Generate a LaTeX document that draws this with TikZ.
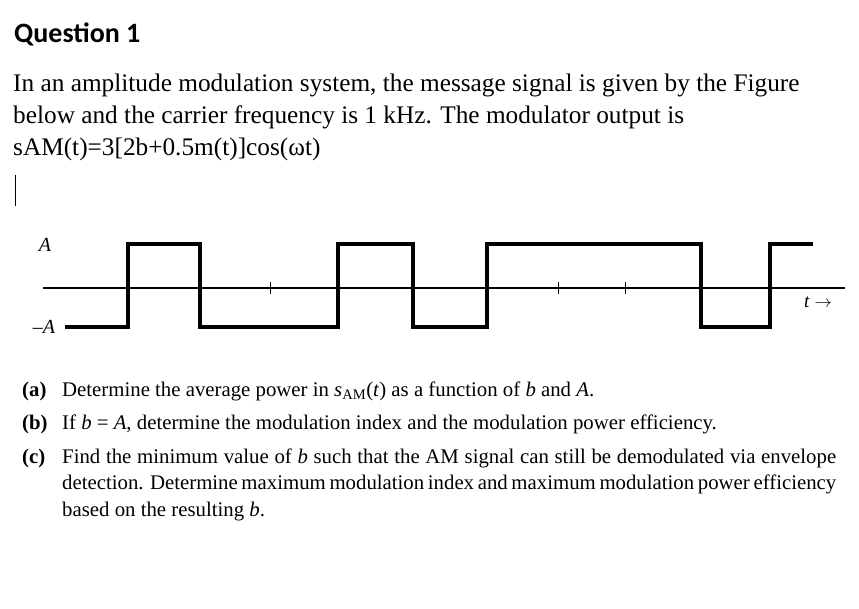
\documentclass[tikz,border=0pt]{standalone}
\usepackage{fontspec}
\setmainfont{Liberation Serif}
\newfontfamily\carlitofont{Carlito}
\begin{document}
\begin{tikzpicture}[x=1pt,y=-1pt,
  body/.style={anchor=base west,inner sep=0pt,font=\fontsize{25.3}{30}\selectfont},
  itm/.style={anchor=base west,inner sep=0pt,font=\fontsize{20.8}{26.5}\selectfont},
  sig/.style={line width=3.2pt},
  ax/.style={line width=1.1pt}]
\useasboundingbox (0,0) rectangle (859,609);
\node[anchor=base west,inner sep=0pt,font=\carlitofont\bfseries\fontsize{28}{32}\selectfont] (q) at (14,43) {Question 1};
\node[body] (l1) at (13,92) {In an amplitude modulation system, the message signal is given by the Figure};
\node[body] (l2) at (13,124) {below and the carrier frequency is 1 kHz. The modulator output is};
\node[body] (l3) at (13,156) {sAM(t)=3[2b+0.5m(t)]cos(ωt)};
\draw[line width=0.8pt] (15,175) -- (15,206);
% axis
\draw[ax] (43,288) coordinate (a0) -- (845,288) coordinate (a1);
\foreach \x in {270,558,625} \draw[line width=0.6pt] (\x,282) -- (\x,294);
\draw[sig] (65,327) -- (128,327) -- (128,244) -- (200,244) -- (200,327) -- (338,327) -- (338,244)
  -- (413,244) -- (413,327) -- (487,327) -- (487,244) -- (701,244) -- (701,327) -- (770,327) -- (770,244) -- (813,244);
\node[inner sep=0pt,font=\itshape\fontsize{20}{22}\selectfont] (la) at (45,245) {A};
\node[inner sep=0pt,font=\fontsize{20}{22}\selectfont] (lma) at (44,327) {–\textit{A}};
\node[inner sep=0pt,font=\fontsize{19}{22}\selectfont] (lt) at (818,302) {\textit{t} $\rightarrow$};
% items
\node[itm] (ia) at (22,396) {\textbf{(a)}};
\node[itm] (ta) at (62,396) {Determine the average power in \textit{s}\textsubscript{AM}(\textit{t}) as a function of \textit{b} and \textit{A}.};
\node[itm] (ib) at (22,429) {\textbf{(b)}};
\node[itm] (tb) at (62,429) {If \textit{b} = \textit{A}, determine the modulation index and the modulation power efficiency.};
\node[itm] (ic) at (22,463) {\textbf{(c)}};
\node[itm,anchor=north west,text width=774pt,align=justify] (tc) at (62,444.5) {\strut Find the minimum value of \textit{b} such that the AM signal can still be demodulated via envelope detection. Determine maximum modulation index and maximum modulation power efficiency based on the resulting \textit{b}.};
\end{tikzpicture}
\end{document}
